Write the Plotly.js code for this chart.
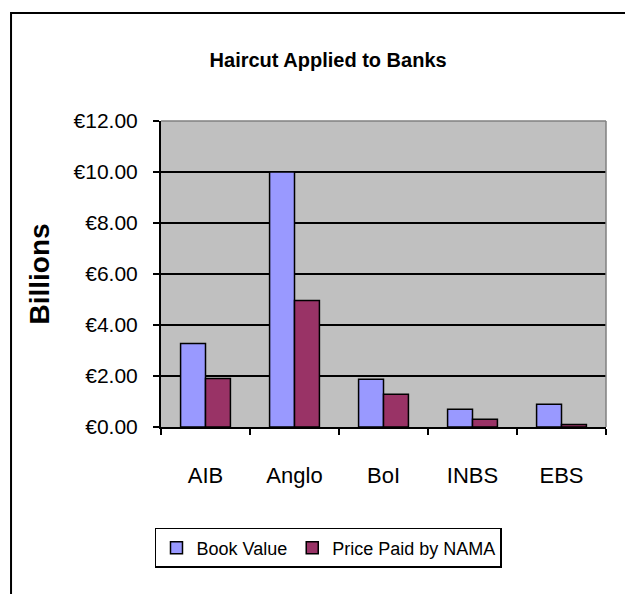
<!DOCTYPE html>
<html>
<head>
<meta charset="utf-8">
<script src="https://cdn.plot.ly/plotly-3.0.1.min.js"></script>
<style>html,body{margin:0;padding:0;background:#fff;}#chart{width:625px;height:594px;}</style>
</head>
<body>
<div id="chart"></div>
<script>
const banks = ["AIB", "Anglo", "BoI", "INBS", "EBS"];
const bookValue = [3.27, 10.0, 1.87, 0.70, 0.89];
const pricePaid = [1.90, 4.96, 1.28, 0.30, 0.10];
const yTickVals = [0, 2, 4, 6, 8, 10, 12];
const yTickText = ["€0.00", "€2.00", "€4.00", "€6.00", "€8.00", "€10.00", "€12.00"];

const SANS = '"Liberation Sans", Arial, sans-serif';

const traces = [
  {
    type: 'bar', name: 'Book Value', x: banks, y: bookValue,
    marker: {color: '#9999FF', line: {color: '#000000', width: 1.5}}
  },
  {
    type: 'bar', name: 'Price Paid by NAMA', x: banks, y: pricePaid,
    marker: {color: '#993366', line: {color: '#000000', width: 1.5}}
  }
];

const layout = {
  width: 625, height: 594,
  margin: {l: 161, r: 19, t: 121, b: 167},
  paper_bgcolor: '#FFFFFF',
  plot_bgcolor: '#C0C0C0',
  barmode: 'group',
  bargap: 0.44,
  bargroupgap: 0,
  showlegend: true,
  hovermode: false,
  title: {
    text: '<b>Haircut Applied to Banks</b>',
    font: {family: SANS, size: 20, color: '#000'},
    x: 0.525, xanchor: 'center', xref: 'container',
    y: 0.899, yanchor: 'middle', yref: 'container'
  },
  xaxis: {
    type: 'category',
    tickson: 'boundaries',
    ticks: 'outside', ticklen: 6, tickcolor: '#000', tickwidth: 1.5,
    showline: true, linecolor: '#000', linewidth: 2,
    showgrid: false,
    tickfont: {family: SANS, size: 22, color: '#000'},
    ticklabelstandoff: 28,
    fixedrange: true
  },
  yaxis: {
    range: [0, 12],
    tickvals: yTickVals,
    ticktext: yTickText,
    ticks: 'outside', ticklen: 6, tickcolor: '#000', tickwidth: 1.5,
    showline: true, linecolor: '#000', linewidth: 2,
    showgrid: true, gridcolor: '#000', gridwidth: 1.5,
    zeroline: false,
    tickfont: {family: SANS, size: 21, color: '#000'},
    ticklabelstandoff: 11,
    title: {text: '<b>Billions</b>', font: {family: SANS, size: 28, color: '#000'}, standoff: 16},
    fixedrange: true
  },
  legend: {
    orientation: 'h',
    x: -0.0135, xanchor: 'left',
    y: -0.33, yanchor: 'top',
    bordercolor: '#000', borderwidth: 1.5,
    bgcolor: '#FFFFFF',
    font: {family: SANS, size: 18, color: '#000'},
    itemwidth: 30
  },
  shapes: [
    {type: 'rect', xref: 'paper', yref: 'paper', x0: -0.337, x1: 1.08, y0: -0.6, y1: 1.353,
     line: {color: '#000', width: 2}, fillcolor: 'rgba(0,0,0,0)', layer: 'below'},
    {type: 'line', xref: 'paper', yref: 'paper', x0: 0, x1: 1, y0: 1, y1: 1,
     line: {color: '#808080', width: 1.5}},
    {type: 'line', xref: 'paper', yref: 'paper', x0: 1, x1: 1, y0: 0, y1: 1,
     line: {color: '#808080', width: 1.5}}
  ]
};

Plotly.newPlot('chart', traces, layout, {displayModeBar: false, staticPlot: true});
</script>
</body>
</html>
